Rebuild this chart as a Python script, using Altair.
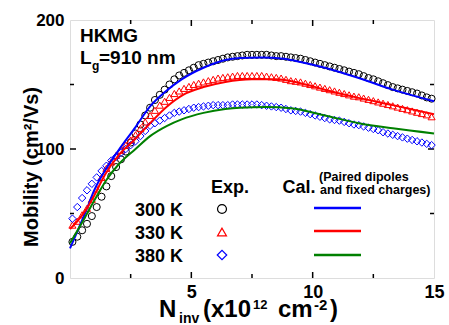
import altair as alt
import pandas as pd

# ---------------- data ----------------
X_EXP = [0.1, 0.3, 0.5, 0.7, 0.9, 1.1, 1.3, 1.5, 1.7, 1.9,
         2.1, 2.3, 2.5, 2.7, 2.9, 3.1, 3.3, 3.5, 3.7, 3.9,
         4.1, 4.3, 4.5, 4.7, 4.9, 5.1, 5.3, 5.5, 5.7, 5.9,
         6.1, 6.3, 6.5, 6.7, 6.9, 7.1, 7.3, 7.5, 7.7, 7.9,
         8.1, 8.3, 8.5, 8.7, 8.9, 9.1, 9.3, 9.5, 9.7, 9.9,
         10.1, 10.3, 10.5, 10.7, 10.9, 11.1, 11.3, 11.5, 11.7, 11.9,
         12.1, 12.3, 12.5, 12.7, 12.9, 13.1, 13.3, 13.5, 13.7, 13.9,
         14.1, 14.3, 14.5, 14.7, 14.9]

MU_300_EXP = [28, 32, 37, 42, 48, 55, 63, 71, 79, 86,
              92, 98, 105, 112, 119, 126, 132, 138, 142, 146,
              150, 154, 157, 159, 161, 163, 165, 166, 167, 168,
              169, 170, 171, 171.5, 172, 172.5, 173, 173, 173, 173,
              173, 172.5, 172, 172, 171.5, 171, 170.5, 170, 169, 168,
              167, 166, 165, 164, 163, 162, 161, 160, 159, 158,
              156.5, 155, 154, 152.5, 151, 149.5, 148, 147, 146, 145,
              144, 143, 141.5, 140, 139]

MU_330_EXP = [41, 44, 49, 54, 61, 69, 78, 85, 90, 95,
              99, 103, 107, 111, 116, 121, 126, 130, 134, 137,
              140, 143, 145, 147, 148.5, 150, 151, 152, 153, 154,
              155, 155.5, 156, 156.5, 157, 157, 157, 157, 157, 157,
              156.5, 156, 155.5, 155, 154, 153, 152.5, 152, 151, 150,
              149, 148, 147, 146, 145, 144, 143, 142, 141, 140.5,
              139.5, 138.5, 137.5, 136.5, 135.5, 134.5, 133.5, 132.5, 131.5, 130.5,
              129.5, 128.5, 127.5, 126.5, 125]

MU_380_EXP = [46, 55, 62, 68, 73, 78, 83, 87, 91, 94,
              97, 100, 103, 106, 110, 114, 118, 120, 122, 124,
              126, 128, 129, 130, 131, 132, 132.5, 133, 133.5, 134,
              134, 134, 134, 134.5, 134.5, 134.5, 134.5, 134.5, 134.5, 134,
              133.5, 133, 132.5, 132, 131, 130, 129.5, 129, 128, 127,
              126, 125, 124, 123, 122.5, 122, 121, 120, 119, 118.5,
              117.5, 116.5, 115.5, 114.5, 113, 112, 111, 110, 109, 108,
              107, 106, 105, 104, 103]

X_CAL_300 = [0, 0.3, 0.66, 1.0, 1.5, 2.0, 2.7, 3.3, 3.9, 4.6, 5.5, 6.4, 7.0, 7.9, 8.8, 9.5, 10.5, 11.9, 13.3, 15]
MU_300_CAL = [23, 36, 52, 68, 85, 99, 117, 133, 144, 154, 163, 169, 170.5, 171, 170, 167.5, 163, 155, 146, 137]

X_CAL_330 = [0, 0.3, 0.66, 1.0, 1.44, 2.0, 2.7, 3.3, 4.0, 4.66, 5.5, 6.4, 7.5, 8.5, 9.5, 10.5, 11.8, 13.3, 15]
MU_330_CAL = [38, 44, 53, 64, 80, 95, 108, 120, 133, 142, 148, 152, 154, 154, 151, 146, 140, 134, 127]

X_CAL_380 = [0, 0.5, 1.0, 1.5, 2.0, 2.7, 3.3, 4.0, 4.6, 5.5, 6.4, 7.0, 8.1, 9.1, 10.5, 11.9, 13.3, 15]
MU_380_CAL = [27, 43, 60, 76, 88, 100, 110, 118, 123, 128, 131, 132, 132.5, 131.5, 126, 120, 116, 112]

X_TICKS_MAJOR = [5, 10]
X_TICKS_MINOR = [2.5, 7.5, 12.5]
Y_TICKS_MAJOR = [100]
Y_TICKS_MINOR = [50, 150]

# ---------------- layout ----------------
W, H = 364, 258
L, T = 70, 20
FONT = "Liberation Sans"
BLUE, RED, GREEN, BLACK = "#0000ff", "#ff0000", "#008000", "#000000"

xs = alt.Scale(domain=[0, 15], nice=False, zero=False)
ys = alt.Scale(domain=[0, 200], nice=False, zero=False)

x_axis = alt.Axis(values=[5, 10, 15], format="d", ticks=False, domain=False, grid=False,
                  labelFont=FONT, labelFontSize=18, labelFontWeight="bold",
                  labelColor="black", labelPadding=5, labelFlush=False, title="")
y_axis = alt.Axis(values=[0, 100, 200], format="d", ticks=False, domain=False, grid=False,
                  labelFont=FONT, labelFontSize=17, labelFontWeight="bold",
                  labelColor="black", labelPadding=6, title="")


def exp_layer(xv, yv, shape, color, size):
    df = pd.DataFrame({"x": xv, "y": yv})
    return alt.Chart(df).mark_point(shape=shape, color=color, filled=False,
                                    size=size, strokeWidth=1, opacity=1).encode(
        x=alt.X("x:Q", scale=xs, axis=x_axis),
        y=alt.Y("y:Q", scale=ys, axis=y_axis))


def cal_layer(xv, yv, color):
    df = pd.DataFrame({"x": xv, "y": yv})
    return alt.Chart(df).mark_line(color=color, strokeWidth=2, interpolate="monotone").encode(
        x=alt.X("x:Q", scale=xs, axis=x_axis),
        y=alt.Y("y:Q", scale=ys, axis=y_axis))


def xticks(vals, length):
    df = pd.DataFrame({"v": vals})
    base = alt.Chart(df).mark_rule(color="black", strokeWidth=1.5)
    bot = base.encode(x=alt.X("v:Q", scale=xs, axis=x_axis), y=alt.value(H), y2=alt.value(H - length))
    top = base.encode(x=alt.X("v:Q", scale=xs, axis=x_axis), y=alt.value(0), y2=alt.value(length))
    return [bot, top]


def yticks(vals, length):
    df = pd.DataFrame({"v": vals})
    base = alt.Chart(df).mark_rule(color="black", strokeWidth=1.5)
    left = base.encode(y=alt.Y("v:Q", scale=ys, axis=y_axis), x=alt.value(0), x2=alt.value(length))
    right = base.encode(y=alt.Y("v:Q", scale=ys, axis=y_axis), x=alt.value(W), x2=alt.value(W - length))
    return [left, right]


def txt(t, px, py, fs, align="left", angle=0):
    props = dict(font=FONT, fontWeight="bold", fontSize=fs, align=align,
                 baseline="alphabetic", color="black")
    if angle:
        props["angle"] = angle
    return alt.Chart(alt.Data(values=[{"t": t}])).mark_text(**props).encode(
        x=alt.value(px - L), y=alt.value(py - T), text="t:N")


def leg_point(shape, color, px, py, size):
    return alt.Chart(alt.Data(values=[{"a": 1}])).mark_point(
        shape=shape, color=color, filled=False, size=size, strokeWidth=1.2, opacity=1).encode(
        x=alt.value(px - L), y=alt.value(py - T))


def leg_line(color, px1, px2, py):
    return alt.Chart(alt.Data(values=[{"a": 1}])).mark_rule(color=color, strokeWidth=2.5).encode(
        x=alt.value(px1 - L), x2=alt.value(px2 - L), y=alt.value(py - T))


layers = []
layers += xticks(X_TICKS_MAJOR, 6) + xticks(X_TICKS_MINOR, 4)
layers += yticks(Y_TICKS_MAJOR, 6) + yticks(Y_TICKS_MINOR, 4)
layers += [
    exp_layer(X_EXP, MU_300_EXP, "circle", BLACK, 50),
    exp_layer(X_EXP, MU_330_EXP, "triangle-up", RED, 50),
    exp_layer(X_EXP, MU_380_EXP, "diamond", BLUE, 55),
    cal_layer(X_CAL_300, MU_300_CAL, BLUE),
    cal_layer(X_CAL_330, MU_330_CAL, RED),
    cal_layer(X_CAL_380, MU_380_CAL, GREEN),
]

# annotation texts
layers += [
    txt("HKMG", 80, 42, 19),
    txt("L", 80, 64, 19),
    txt("g", 92, 70, 12),
    txt("=910 nm", 99, 64, 19),
    txt("Exp.", 230, 193, 18, align="center"),
    txt("Cal.", 299, 193, 18, align="center"),
    txt("(Paired dipoles", 319, 181, 12.5),
    txt("and fixed charges)", 320, 194, 12.5),
    txt("300 K", 135, 216, 18),
    txt("330 K", 135, 239, 18),
    txt("380 K", 135, 262, 18),
    leg_point("circle", BLACK, 222, 209, 80),
    leg_point("triangle-up", RED, 222, 232, 80),
    leg_point("diamond", BLUE, 222, 255, 90),
    leg_line(BLUE, 314, 361, 208),
    leg_line(RED, 314, 361, 231),
    leg_line(GREEN, 314, 361, 255),
    # axis titles
    txt("Mobility (cm\u00b2/Vs)", 38, 167, 20, align="center", angle=270),
    txt("N", 159, 317, 24),
    txt("inv", 179, 323, 14),
    txt("(x10", 203, 317, 24),
    txt("12", 253, 309, 13),
    txt("cm", 278, 317, 24),
    txt("-2", 314, 310, 15),
    txt(")", 330, 317, 24),
]

chart = alt.layer(*layers).properties(
    width=W, height=H,
    padding={"left": L, "top": T, "right": 449 - L - W, "bottom": 325 - T - H},
    autosize=alt.AutoSizeParams(type="none"),
).configure_view(stroke="black", strokeWidth=2).configure(background="white")

chart.save("out.html", embed_options={"renderer": "svg", "actions": False})
